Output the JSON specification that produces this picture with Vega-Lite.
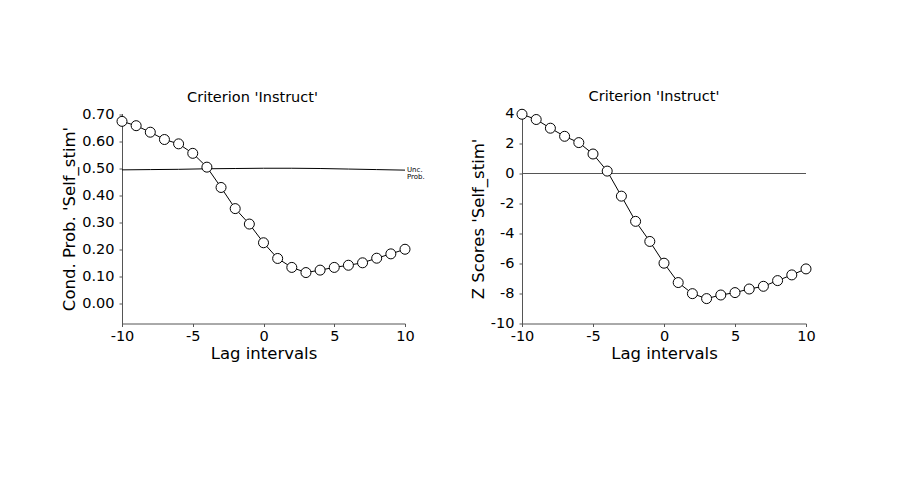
{
  "$schema": "https://vega.github.io/schema/vega-lite/v6.json",
  "background": "white",
  "padding": {"left": 61, "top": 88.5, "right": 5, "bottom": 5},
  "datasets": {
    "lag": [
      {"x": -10, "cp": 0.674, "z": 3.95},
      {"x": -9, "cp": 0.658, "z": 3.6},
      {"x": -8, "cp": 0.634, "z": 3.02},
      {"x": -7, "cp": 0.607, "z": 2.48},
      {"x": -6, "cp": 0.591, "z": 2.06},
      {"x": -5, "cp": 0.556, "z": 1.3},
      {"x": -4, "cp": 0.505, "z": 0.16},
      {"x": -3, "cp": 0.43, "z": -1.51},
      {"x": -2, "cp": 0.352, "z": -3.19},
      {"x": -1, "cp": 0.295, "z": -4.53},
      {"x": 0, "cp": 0.226, "z": -5.98},
      {"x": 1, "cp": 0.168, "z": -7.27},
      {"x": 2, "cp": 0.135, "z": -8.01},
      {"x": 3, "cp": 0.116, "z": -8.34},
      {"x": 4, "cp": 0.125, "z": -8.1},
      {"x": 5, "cp": 0.135, "z": -7.94},
      {"x": 6, "cp": 0.143, "z": -7.7},
      {"x": 7, "cp": 0.152, "z": -7.52},
      {"x": 8, "cp": 0.169, "z": -7.14},
      {"x": 9, "cp": 0.185, "z": -6.76},
      {"x": 10, "cp": 0.202, "z": -6.36}
    ],
    "unc": [
      {"x": -10, "p": 0.495},
      {"x": -8, "p": 0.496},
      {"x": -6, "p": 0.497},
      {"x": -4, "p": 0.499},
      {"x": -2, "p": 0.5},
      {"x": 0, "p": 0.501},
      {"x": 2, "p": 0.501},
      {"x": 4, "p": 0.5},
      {"x": 6, "p": 0.498},
      {"x": 8, "p": 0.496},
      {"x": 10, "p": 0.494}
    ],
    "lab": [{"x": 10, "p": 0.494, "t": "Unc.\nProb."}]
  },
  "config": {
    "font": "DejaVu Sans",
    "view": {"stroke": null},
    "axis": {
      "domainColor": "#555",
      "tickColor": "#555",
      "labelColor": "black",
      "titleColor": "black",
      "labelFont": "DejaVu Sans",
      "titleFont": "DejaVu Sans",
      "labelFontSize": 14.5,
      "titleFontSize": 16.5,
      "titleFontWeight": "normal",
      "grid": false,
      "tickSize": 3,
      "labelOverlap": false,
      "labelFlush": false,
      "labelBound": false,
      "labelExpr": "replace(datum.label, '−', '-')"
    },
    "axisX": {"labelPadding": 3, "titlePadding": 2},
    "axisY": {"labelPadding": 5, "titlePadding": 4},
    "title": {"fontSize": 14.5, "fontWeight": "normal", "font": "DejaVu Sans", "color": "black"},
    "concat": {"spacing": 45}
  },
  "hconcat": [
    {
      "width": 283,
      "height": 210,
      "title": {"text": "Criterion 'Instruct'", "dx": -11, "offset": 1},
      "layer": [
        {
          "data": {"name": "unc"},
          "mark": {"type": "line", "color": "black", "strokeWidth": 1},
          "encoding": {
            "x": {"field": "x", "type": "quantitative", "title": "Lag intervals",
                  "scale": {"domain": [-10, 10], "nice": false, "zero": false},
                  "axis": {"values": [-10, -5, 0, 5, 10], "labelOverlap": false}},
            "y": {"field": "p", "type": "quantitative", "title": "Cond. Prob. 'Self_stim'",
                  "scale": {"domain": [-0.072, 0.703], "nice": false, "zero": false},
                  "axis": {"values": [0, 0.1, 0.2, 0.3, 0.4, 0.5, 0.6, 0.7], "format": ".2f", "labelOverlap": false, "tickCount": 8}}
          }
        },
        {
          "data": {"name": "lag"},
          "mark": {"type": "line", "color": "black", "strokeWidth": 1},
          "encoding": {
            "x": {"field": "x", "type": "quantitative", "title": "Lag intervals"},
            "y": {"field": "cp", "type": "quantitative", "title": "Cond. Prob. 'Self_stim'"}
          }
        },
        {
          "data": {"name": "lag"},
          "mark": {"type": "point", "shape": "circle", "filled": true, "fill": "white", "stroke": "black", "strokeWidth": 1, "size": 100, "opacity": 1},
          "encoding": {
            "x": {"field": "x", "type": "quantitative", "title": "Lag intervals"},
            "y": {"field": "cp", "type": "quantitative", "title": "Cond. Prob. 'Self_stim'"}
          }
        },
        {
          "data": {"name": "lab"},
          "mark": {"type": "text", "align": "left", "baseline": "middle", "dx": 2, "fontSize": 7, "lineBreak": "\n", "lineHeight": 6.5, "fill": "black"},
          "encoding": {
            "x": {"field": "x", "type": "quantitative", "title": "Lag intervals"},
            "y": {"field": "p", "type": "quantitative", "title": "Cond. Prob. 'Self_stim'"},
            "text": {"field": "t"},
            "color": {"value": "black"}
          }
        }
      ]
    },
    {
      "width": 284,
      "height": 210,
      "title": {"text": "Criterion 'Instruct'", "dx": -10, "offset": 1},
      "layer": [
        {
          "data": {"name": "lag"},
          "mark": {"type": "line", "color": "black", "strokeWidth": 1},
          "encoding": {
            "x": {"field": "x", "type": "quantitative", "title": "Lag intervals",
                  "scale": {"domain": [-10, 10], "nice": false, "zero": false},
                  "axis": {"values": [-10, -5, 0, 5, 10], "labelOverlap": false}},
            "y": {"field": "z", "type": "quantitative", "title": "Z Scores 'Self_stim'",
                  "scale": {"domain": [-10, 4], "nice": false, "zero": false},
                  "axis": {"values": [-10, -8, -6, -4, -2, 0, 2, 4], "labelOverlap": false, "tickCount": 8}}
          }
        },
        {
          "data": {"name": "lag"},
          "mark": {"type": "rule", "color": "#555", "strokeWidth": 1},
          "encoding": {"y": {"datum": 0, "type": "quantitative"}}
        },
        {
          "data": {"name": "lag"},
          "mark": {"type": "point", "shape": "circle", "filled": true, "fill": "white", "stroke": "black", "strokeWidth": 1, "size": 100, "opacity": 1},
          "encoding": {
            "x": {"field": "x", "type": "quantitative", "title": "Lag intervals"},
            "y": {"field": "z", "type": "quantitative", "title": "Z Scores 'Self_stim'"}
          }
        }
      ]
    }
  ]
}
